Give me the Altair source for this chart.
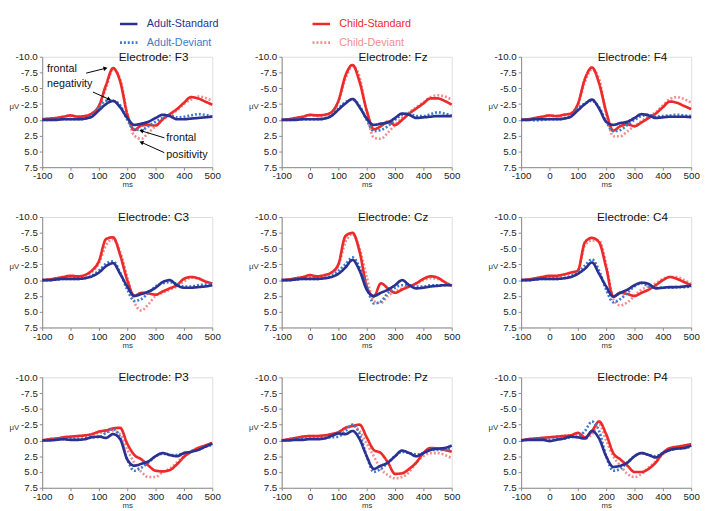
import altair as alt
import pandas as pd

TIME = [-100, -75, -50, -25, 0, 25, 50, 75, 100, 125, 150, 175, 200,
        225, 250, 275, 300, 325, 350, 375, 400, 425, 450, 475, 500]
ELECTRODES = ["F3", "Fz", "F4", "C3", "Cz", "C4", "P3", "Pz", "P4"]
SERIES = ["Adult-Standard", "Adult-Deviant", "Child-Standard", "Child-Deviant"]
LEGEND_ORDER = ["Adult-Standard", "Child-Standard", "Adult-Deviant", "Child-Deviant"]
COLORS = {"Adult-Standard": "#2B3190", "Adult-Deviant": "#3C7BCB",
          "Child-Standard": "#EC2A2A", "Child-Deviant": "#F28E8E"}
DASHES = {"Adult-Standard": [1, 0], "Adult-Deviant": [2, 2],
          "Child-Standard": [1, 0], "Child-Deviant": [2, 2]}
WIDTHS = {"Adult-Standard": 2.7, "Adult-Deviant": 2.3,
          "Child-Standard": 2.7, "Child-Deviant": 2.3}
XTICKS = [-100, 0, 100, 200, 300, 400, 500]
YTICKS = [-10, -7.5, -5, -2.5, 0, 2.5, 5, 7.5]

# ---- waveforms (µV), one list per electrode/series ----
F3_AS = [0, 0, 0, -0.1, -0.1, -0.1, -0.2, -0.5, -1.5, -2.5, -3.0, -2.0, -0.3, 0.8, 0.6, 0.3, -0.3, -0.8, -0.6, -0.1, -0.1, -0.2, -0.3, -0.4, -0.5]
F3_AD = [0, 0, -0.1, -0.1, -0.1, -0.1, -0.2, -0.6, -2.0, -3.0, -3.0, -2.3, 0.0, 1.5, 1.6, 1.0, 0.3, -0.3, -0.7, -0.4, -0.5, -0.7, -0.9, -0.8, -0.5]
F3_CS = [-0.1, -0.2, -0.3, -0.5, -0.7, -0.5, -0.6, -1.0, -2.2, -5.5, -8.2, -6.1, -0.9, 1.6, 0.9, 0.8, 0.9, -0.1, -0.9, -1.7, -2.7, -3.6, -3.4, -2.9, -2.4]
F3_CD = [-0.1, -0.2, -0.3, -0.5, -0.6, -0.5, -0.6, -1.0, -2.0, -5.0, -8.0, -6.5, -1.0, 2.5, 3.0, 2.0, 1.0, 0.0, -0.8, -1.5, -2.5, -3.2, -3.7, -3.5, -3.0]

FZ_AS = [0, 0, 0, -0.1, -0.1, -0.1, -0.2, -0.6, -1.6, -2.6, -3.3, -2.0, -0.2, 0.8, 0.6, 0.4, -0.3, -1.0, -0.8, -0.3, -0.4, -0.5, -0.6, -0.6, -0.6]
FZ_AD = [0, 0, -0.1, -0.1, -0.1, -0.1, -0.2, -0.7, -1.8, -2.8, -3.2, -2.2, 0.0, 1.8, 1.6, 1.0, 0.0, -0.8, -1.0, -0.6, -0.6, -0.9, -1.2, -1.0, -0.7]
FZ_CS = [0, -0.1, -0.3, -0.5, -0.8, -0.7, -0.8, -1.2, -3.0, -7.0, -8.7, -6.0, -1.5, 1.5, 1.0, 0.3, 0.8, 0.0, -1.0, -1.8, -2.6, -3.4, -3.4, -3.0, -2.4]
FZ_CD = [0, -0.1, -0.3, -0.5, -0.7, -0.6, -0.7, -1.1, -2.8, -6.5, -8.5, -6.8, -1.0, 2.8, 3.0, 2.0, 0.8, -0.3, -1.2, -2.0, -2.8, -3.6, -3.9, -3.7, -3.2]

F4_AS = [0, 0, -0.1, -0.1, -0.1, -0.1, -0.2, -0.5, -1.5, -2.5, -3.2, -1.8, 0.3, 0.8, 0.5, 0.3, -0.3, -0.9, -0.7, -0.3, -0.4, -0.5, -0.5, -0.5, -0.4]
F4_AD = [0, 0, 0.1, 0, -0.1, -0.1, -0.2, -0.6, -1.8, -2.6, -3.0, -2.0, 0.3, 1.8, 1.6, 0.8, 0.0, -0.6, -0.8, -0.5, -0.6, -0.7, -0.8, -0.7, -0.6]
F4_CS = [0, -0.1, -0.3, -0.5, -0.7, -0.6, -0.8, -1.0, -2.5, -6.5, -8.3, -5.8, -1.3, 1.7, 1.0, 0.7, 1.0, 0.4, -0.3, -1.0, -2.0, -2.9, -2.7, -2.2, -1.7]
F4_CD = [0, -0.1, -0.3, -0.5, -0.6, -0.6, -0.7, -1.0, -2.3, -6.0, -8.0, -6.5, -1.0, 2.6, 2.6, 1.8, 1.0, 0.2, -0.5, -1.2, -2.3, -3.3, -3.6, -3.3, -2.7]

C3_AS = [0, 0, -0.1, -0.2, -0.2, -0.2, -0.3, -0.6, -1.2, -2.2, -2.7, -1.0, 1.0, 2.5, 2.2, 1.8, 1.2, 0.3, 0.0, 0.8, 1.2, 1.2, 1.1, 1.0, 0.8]
C3_AD = [0, 0, -0.1, -0.2, -0.2, -0.2, -0.3, -0.7, -1.5, -2.6, -3.0, -1.2, 1.5, 3.3, 3.0, 2.0, 1.0, 0.5, 0.3, 0.6, 1.0, 1.0, 0.8, 0.7, 0.5]
C3_CS = [0, -0.1, -0.3, -0.5, -0.7, -0.6, -0.8, -1.5, -3.0, -6.5, -6.8, -4.0, 0.0, 2.5, 2.0, 2.1, 2.3, 1.8, 1.3, 0.8, -0.2, -0.5, -0.3, 0.2, 0.5]
C3_CD = [0, -0.1, -0.3, -0.4, -0.6, -0.5, -0.7, -1.3, -2.7, -5.5, -6.5, -4.5, -0.5, 3.5, 4.8, 3.8, 2.5, 2.0, 1.5, 1.0, 0.2, -0.4, -0.3, 0.2, 0.6]

CZ_AS = [0, 0, -0.1, -0.2, -0.2, -0.2, -0.3, -0.5, -1.0, -2.0, -3.2, -1.5, 1.5, 2.5, 2.0, 1.5, 0.8, 0.0, 0.8, 1.3, 1.2, 1.0, 0.9, 0.8, 0.8]
CZ_AD = [0, 0, -0.1, -0.2, -0.2, -0.2, -0.3, -0.6, -1.5, -2.5, -3.6, -2.0, 1.0, 3.7, 3.4, 2.0, 1.2, 0.8, 0.8, 1.0, 1.0, 0.8, 0.8, 0.8, 0.7]
CZ_CS = [0, -0.1, -0.3, -0.5, -0.8, -0.6, -0.8, -1.2, -2.5, -7.0, -7.5, -4.5, 1.0, 2.6, 0.5, 1.3, 2.0, 1.5, 1.0, 0.5, -0.2, -0.6, -0.4, 0.3, 0.9]
CZ_CD = [0, -0.1, -0.3, -0.4, -0.6, -0.5, -0.7, -1.0, -2.3, -6.0, -7.3, -5.0, -0.5, 3.3, 3.6, 2.5, 1.8, 1.3, 1.0, 0.5, 0.0, -0.3, -0.2, 0.3, 0.8]

C4_AS = [0, 0, -0.1, -0.2, -0.2, -0.2, -0.3, -0.5, -1.0, -1.8, -2.8, -1.0, 1.0, 2.6, 2.0, 1.5, 0.8, 0.4, 0.6, 1.3, 1.2, 1.1, 1.1, 1.0, 0.9]
C4_AD = [0, 0, -0.1, -0.2, -0.2, -0.2, -0.3, -0.6, -1.2, -2.3, -3.3, -1.5, 1.5, 3.5, 3.0, 2.0, 1.0, 0.5, 1.0, 1.2, 1.2, 1.2, 1.1, 1.1, 1.0]
C4_CS = [0, -0.1, -0.3, -0.5, -0.7, -0.7, -0.9, -1.2, -1.5, -6.0, -6.7, -6.0, -2.0, 2.6, 2.0, 2.2, 2.5, 2.0, 1.5, 0.8, 0.0, -0.5, -0.2, 0.3, 0.8]
C4_CD = [0, -0.1, -0.3, -0.4, -0.6, -0.6, -0.8, -1.0, -1.5, -5.5, -6.3, -6.3, -2.5, 3.0, 4.0, 3.5, 2.5, 1.5, 1.0, 0.5, -0.2, -0.5, -0.5, 0.0, 0.6]

P3_AS = [0, 0, -0.1, -0.2, -0.1, -0.1, -0.2, -0.5, -0.6, -0.4, -1.0, -0.2, 3.0, 4.0, 3.7, 3.3, 2.5, 2.0, 2.3, 2.5, 2.0, 1.8, 1.5, 1.0, 0.5]
P3_AD = [0, -0.1, -0.2, -0.2, -0.2, -0.2, -0.3, -0.5, -0.5, -1.2, -1.8, -0.5, 3.0, 4.8, 4.3, 3.5, 2.5, 2.1, 2.3, 2.3, 2.0, 1.8, 1.5, 1.0, 0.7]
P3_CS = [0, -0.2, -0.3, -0.5, -0.6, -0.7, -0.8, -1.0, -1.4, -1.6, -1.9, -2.0, 0.5, 2.3, 3.0, 4.0, 4.8, 4.9, 4.7, 3.8, 2.6, 1.8, 1.2, 0.8, 0.4]
P3_CD = [0, -0.2, -0.3, -0.5, -0.6, -0.6, -0.7, -0.9, -1.2, -1.3, -1.5, -1.0, 1.5, 3.5, 5.0, 5.8, 5.8, 5.0, 4.5, 3.5, 2.5, 1.7, 1.2, 0.8, 0.4]

PZ_AS = [0, 0, -0.1, -0.1, -0.2, -0.2, -0.3, -0.7, -1.1, -1.0, -1.5, -0.2, 2.5, 4.5, 4.0, 3.5, 2.5, 1.6, 2.0, 2.5, 2.0, 1.5, 1.3, 1.2, 0.8]
PZ_AD = [0, -0.1, -0.2, -0.3, -0.3, -0.3, -0.4, -0.5, -0.6, -1.5, -2.5, -1.0, 2.5, 5.0, 4.5, 3.5, 2.5, 1.8, 2.0, 2.2, 2.0, 1.5, 1.5, 1.5, 1.3]
PZ_CS = [0, -0.2, -0.4, -0.6, -0.7, -0.7, -0.8, -1.0, -1.3, -2.0, -2.3, -2.5, -0.5, 1.5, 2.0, 3.5, 5.3, 5.2, 4.5, 3.5, 2.0, 1.2, 1.3, 1.5, 1.8]
PZ_CD = [0, -0.2, -0.4, -0.6, -0.7, -0.7, -0.8, -1.0, -1.2, -2.0, -2.3, -1.5, 0.5, 2.5, 4.5, 5.5, 6.0, 5.8, 5.0, 3.5, 2.5, 2.0, 2.0, 2.3, 2.8]

P4_AS = [0, -0.1, -0.1, -0.1, 0.1, -0.1, -0.3, -0.6, -0.5, -0.3, -1.5, -0.3, 2.5, 4.2, 4.0, 3.5, 2.5, 2.0, 2.3, 2.7, 2.0, 1.5, 1.3, 1.2, 0.8]
P4_AD = [0, -0.1, -0.2, -0.2, -0.1, -0.2, -0.3, -0.5, -0.6, -1.5, -3.0, -1.5, 2.5, 4.8, 4.5, 3.5, 2.5, 2.0, 2.3, 2.5, 2.0, 1.5, 1.3, 1.2, 1.0]
P4_CS = [0, -0.2, -0.3, -0.4, -0.5, -0.6, -0.7, -0.8, -1.2, -0.5, -1.5, -3.0, -1.0, 2.0, 3.0, 4.0, 5.0, 5.0, 4.5, 3.5, 2.0, 1.2, 1.0, 0.8, 0.6]
P4_CD = [0, -0.2, -0.3, -0.4, -0.5, -0.6, -0.7, -0.8, -1.0, -0.3, -1.0, -2.5, 0.0, 2.5, 4.0, 5.3, 5.8, 5.3, 4.3, 3.3, 2.2, 1.5, 1.3, 1.0, 0.7]

WAVES = {
    "F3": [F3_AS, F3_AD, F3_CS, F3_CD], "Fz": [FZ_AS, FZ_AD, FZ_CS, FZ_CD],
    "F4": [F4_AS, F4_AD, F4_CS, F4_CD], "C3": [C3_AS, C3_AD, C3_CS, C3_CD],
    "Cz": [CZ_AS, CZ_AD, CZ_CS, CZ_CD], "C4": [C4_AS, C4_AD, C4_CS, C4_CD],
    "P3": [P3_AS, P3_AD, P3_CS, P3_CD], "Pz": [PZ_AS, PZ_AD, PZ_CS, PZ_CD],
    "P4": [P4_AS, P4_AD, P4_CS, P4_CD],
}

# ---- annotations on F3 ----
ANN_TEXT = ["frontal", "negativity", "frontal", "positivity"]
ANN_X = [-83, -83, 338, 338]
ANN_Y = [-8.0, -5.66, 2.9, 5.5]
ARR_X1 = [55, 79, 331, 331]
ARR_Y1 = [-7.4, -4.4, 2.85, 5.2]
ARR_X2 = [121, 134, 252, 252]
ARR_Y2 = [-8.14, -3.3, 1.77, 3.6]
ARR_ANGLE = [75, 114, 287, 294]

FONT = "Liberation Sans"
W, H = 174, 113

DRAW_ORDER = ["Child-Deviant", "Child-Standard", "Adult-Deviant", "Adult-Standard"]
rows = []
for e in ELECTRODES:
    for s in DRAW_ORDER:
        vals = WAVES[e][SERIES.index(s)]
        for t, v in zip(TIME, vals):
            rows.append({"electrode": e, "series": s, "time": t, "uv": v})
df = pd.DataFrame(rows)

ann_df = pd.DataFrame({"text": ANN_TEXT, "x": ANN_X, "y": ANN_Y})
arr_df = pd.DataFrame({"x1": ARR_X1, "y1": ARR_Y1, "x2": ARR_X2, "y2": ARR_Y2, "ang": ARR_ANGLE})

label_expr = " : ".join(
    [f"datum.label == '{s}' ? '{COLORS[s]}'" for s in SERIES[:-1]] + [f"'{COLORS[SERIES[-1]]}'"]
)

legend = alt.Legend(
    title=None, orient="none", legendX=78, legendY=-44, columns=2,
    direction="horizontal", symbolType="stroke", symbolSize=320,
    symbolStrokeWidth=2.6, labelFont=FONT, labelFontSize=11,
    labelOffset=8, columnPadding=90, rowPadding=3, padding=0,
    labelColor={"expr": label_expr},
)

xscale = alt.Scale(domain=[-100, 500], nice=False, zero=False)
yscale = alt.Scale(domain=[-10, 7.5], reverse=True, nice=False, zero=False)

MINUS = "\u2212"
YLABEL = f"replace(format(datum.value, '.1f'), '{MINUS}', '-')"
XLABEL = f"replace(format(datum.value, 'd'), '{MINUS}', '-')"

x_axis = alt.Axis(values=XTICKS, labelExpr=XLABEL, title="ms", titleFontSize=8,
                  titleFont=FONT, titleFontWeight="normal", titlePadding=0,
                  titleColor="#333",
                  labelFont=FONT, labelFontSize=10, labelColor="#222",
                  labelFlush=False, labelOverlap=False, grid=False,
                  domainColor="#8a8a8a", tickColor="#8a8a8a", tickSize=3,
                  labelPadding=1)
y_axis = alt.Axis(values=YTICKS, labelExpr=YLABEL, title="μV", titleFontSize=8,
                  titleFont=FONT, titleFontWeight="normal", titleAngle=0,
                  titleAlign="right", titleBaseline="middle",
                  titleX=-24, titleY=51, titleColor="#333",
                  labelFont=FONT, labelFontSize=10, labelColor="#222",
                  labelFlush=False, labelOverlap=False, grid=False,
                  domainColor="#8a8a8a", tickColor="#8a8a8a", tickSize=3,
                  labelPadding=2)


def panel(e):
    d = df[df.electrode == e]
    lines = alt.Chart(d).mark_line(interpolate="monotone").encode(
        x=alt.X("time:Q", scale=xscale, axis=x_axis),
        y=alt.Y("uv:Q", scale=yscale, axis=y_axis),
        color=alt.Color("series:N", sort=LEGEND_ORDER,
                        scale=alt.Scale(domain=LEGEND_ORDER, range=[COLORS[s] for s in LEGEND_ORDER]),
                        legend=legend),
        strokeDash=alt.StrokeDash("series:N", sort=LEGEND_ORDER,
                                  scale=alt.Scale(domain=LEGEND_ORDER, range=[DASHES[s] for s in LEGEND_ORDER]),
                                  legend=legend),
        strokeWidth=alt.StrokeWidth("series:N",
                                    scale=alt.Scale(domain=LEGEND_ORDER, range=[WIDTHS[s] for s in LEGEND_ORDER]),
                                    legend=None),
    )
    title = alt.Chart(pd.DataFrame({"t": ["Electrode: " + e]})).mark_text(
        font=FONT, fontSize=12, color="#111", align="center", baseline="middle"
    ).encode(text="t:N", x=alt.value(W * 0.655), y=alt.value(0))
    layers = [lines, title]
    if e == "F3":
        rules = alt.Chart(arr_df).mark_rule(color="black", strokeWidth=1).encode(
            x=alt.X("x1:Q", scale=xscale, axis=x_axis), y=alt.Y("y1:Q", scale=yscale, axis=y_axis),
            x2="x2:Q", y2="y2:Q")
        heads = alt.Chart(arr_df).mark_point(shape="triangle", filled=True, color="black",
                                             size=22, opacity=1).encode(
            x=alt.X("x2:Q", scale=xscale, axis=x_axis), y=alt.Y("y2:Q", scale=yscale, axis=y_axis),
            angle=alt.Angle("ang:Q", scale=None))
        texts = alt.Chart(ann_df).mark_text(font=FONT, fontSize=11, color="#111",
                                            align="left", baseline="middle").encode(
            x=alt.X("x:Q", scale=xscale, axis=x_axis), y=alt.Y("y:Q", scale=yscale, axis=y_axis),
            text="text:N")
        layers += [rules, heads, texts]
    return alt.layer(*layers).properties(width=W, height=H)


grid_rows = [alt.hconcat(*[panel(e) for e in ELECTRODES[i:i + 3]], spacing=27) for i in (0, 3, 6)]
chart = alt.vconcat(*grid_rows, spacing=21).properties(
    padding={"left": 0, "top": 0, "right": 0, "bottom": 0}
).configure_view(stroke=None).configure(background="white")

chart.save("out.html", embed_options={"renderer": "svg", "actions": False})
